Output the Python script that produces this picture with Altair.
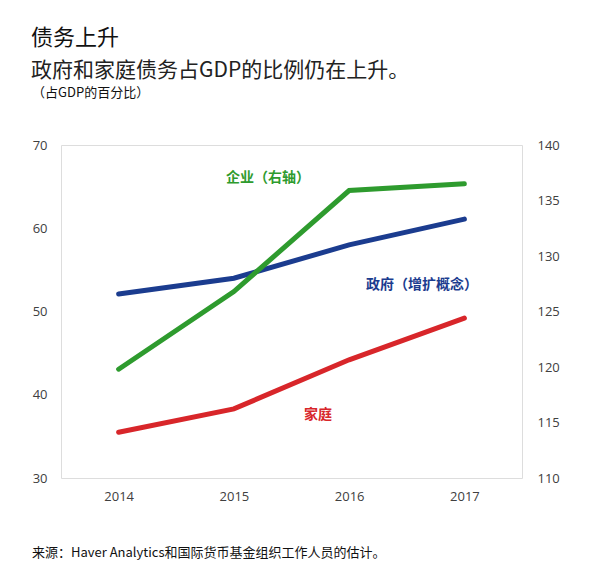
import altair as alt
import pandas as pd

years = ["2014", "2015", "2016", "2017"]
government = [52.1, 54.0, 58.0, 61.1]   # 政府（增扩概念）, left axis
household = [35.5, 38.3, 44.2, 49.2]    # 家庭, left axis
corporate = [119.8, 126.8, 135.9, 136.5]  # 企业（右轴）, right axis

title_text = "债务上升"
subtitle_text = "政府和家庭债务占GDP的比例仍在上升。"
unit_text = "（占GDP的百分比）"
source_text = "来源：Haver Analytics和国际货币基金组织工作人员的估计。"

left_df = pd.DataFrame({
    "year": years * 2,
    "value": government + household,
    "series": ["政府"] * 4 + ["家庭"] * 4,
})
right_df = pd.DataFrame({"year": years, "value": corporate})

W, H = 461, 333
FONT = "Noto Sans CJK SC"
AXFONT = "Open Sans"

xenc = alt.X("year:O", scale=alt.Scale(type="point", padding=0.5),
             axis=alt.Axis(title=None, labelAngle=0, ticks=False, domain=False,
                           labelFont=AXFONT, labelFontSize=13, labelColor="#404040",
                           labelPadding=12))

left = alt.Chart(left_df).mark_line(strokeWidth=5, strokeCap="round").encode(
    x=xenc,
    y=alt.Y("value:Q", scale=alt.Scale(domain=[30, 70], nice=False, zero=False),
            axis=alt.Axis(orient="left", title=None, values=[30, 40, 50, 60, 70],
                          ticks=False, domain=False, grid=False,
                          labelFont=AXFONT, labelFontSize=13, labelColor="#404040",
                          labelPadding=14)),
    color=alt.Color("series:N", scale=alt.Scale(domain=["政府", "家庭"],
                                                range=["#1b3c8f", "#d8262a"]),
                    legend=None),
)

right = alt.Chart(right_df).mark_line(strokeWidth=5, strokeCap="round", color="#2e9b2e").encode(
    x=xenc,
    y=alt.Y("value:Q", scale=alt.Scale(domain=[110, 140], nice=False, zero=False),
            axis=alt.Axis(orient="right", title=None, values=[110, 115, 120, 125, 130, 135, 140],
                          ticks=False, domain=False, grid=False,
                          labelFont=AXFONT, labelFontSize=13, labelColor="#404040",
                          labelPadding=15)),
)

one = pd.DataFrame({"a": [0]})

def txt(text, x, y, size, color, weight="normal", align="left", baseline="top", font=FONT):
    return alt.Chart(one).mark_text(
        text=text, align=align, baseline=baseline, fontSize=size, color=color,
        fontWeight=weight, font=font,
    ).encode(x=alt.value(x), y=alt.value(y))

labels = [
    txt("企业（右轴）", 207, 33, 14, "#2e9b2e", "bold", "center", "middle"),
    txt("政府（增扩概念）", 361, 140, 14, "#1b3c8f", "bold", "center", "middle"),
    txt("家庭", 257, 270, 14, "#d8262a", "bold", "center", "middle"),
    txt(title_text, -30, -117, 22, "#111111"),
    txt(subtitle_text, -30, -85, 21, "#222222"),
    txt(unit_text, -29, -58, 13, "#111111"),
    txt(source_text, -29, 408, 13, "#111111", baseline="middle"),
]

chart = alt.layer(left, right, *labels).resolve_scale(y="independent").properties(
    width=W, height=H,
    autosize=alt.AutoSizeParams(type="none"),
    padding={"left": 53, "top": 137, "right": 70, "bottom": 90},
).configure_view(stroke="#c8c8c8", strokeWidth=1.5).configure(background="white")

chart.save("out.html", embed_options={"renderer": "svg", "actions": False})
